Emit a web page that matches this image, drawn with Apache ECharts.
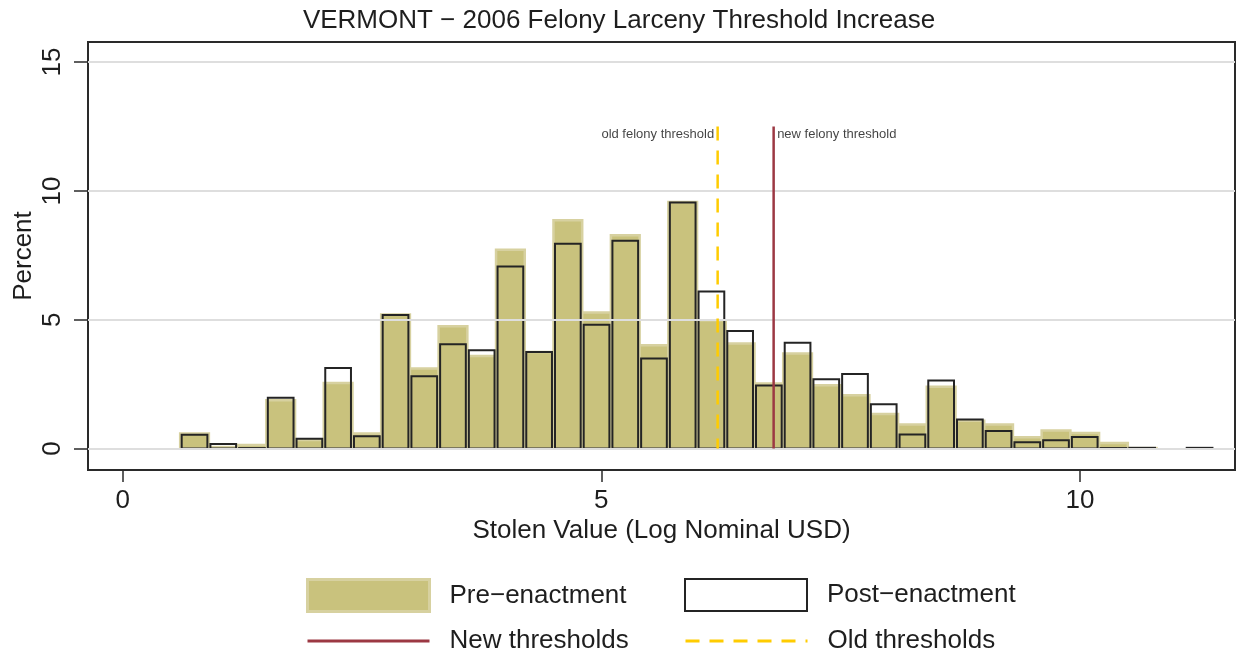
<!DOCTYPE html>
<html><head><meta charset="utf-8">
<script src="https://cdn.jsdelivr.net/npm/echarts@6/dist/echarts.min.js"></script>
<style>html,body{margin:0;padding:0;background:#fff}#c{width:1238px;height:655px}</style>
</head><body><div id="c"></div>
<script>
// ---- data ----
const binStarts = [0.6,0.9,1.2,1.5,1.8,2.1,2.4,2.7,3.0,3.3,3.6,3.9,4.2,4.5,4.8,5.1,5.4,5.7,6.0,6.3,6.6,6.9,7.2,7.5,7.8,8.1,8.4,8.7,9.0,9.3,9.6,9.9,10.2,10.5,10.8,11.1];
const binWidth = 0.3;
const preValues  = [0.59,0.06,0.14,1.88,0.33,2.55,0.59,5.20,3.11,4.75,3.59,7.72,3.75,8.86,5.28,8.28,4.01,9.57,4.98,4.08,2.53,3.69,2.46,2.07,1.34,0.94,2.40,1.08,0.94,0.44,0.70,0.61,0.22,0.02,0,0];
const postValues = [0.54,0.18,0.02,1.97,0.38,3.13,0.48,5.19,2.81,4.05,3.82,7.07,3.75,7.95,4.81,8.07,3.50,9.55,6.10,4.56,2.45,4.11,2.69,2.90,1.72,0.55,2.64,1.13,0.68,0.25,0.32,0.45,0.02,0.03,0,0.03];
const xTicks = [0,5,10];
const yTicks = [0,5,10,15];
const oldThreshold = 6.215;
const newThreshold = 6.80;
const thresholdTop = 12.5;
const labelLevel = 12.2;
const thresholdLabels = ['old felony threshold','new felony threshold'];
const seriesNames = ['Pre−enactment','Post−enactment','New thresholds','Old thresholds'];
const titleText = 'VERMONT − 2006 Felony Larceny Threshold Increase';
const xName = 'Stolen Value (Log Nominal USD)';
const yName = 'Percent';

// ---- styles ----
const FONT = '"Liberation Sans", Arial, Helvetica, sans-serif';
const TXT = '#1e1e1e';
const PRE_FILL = '#C9C27D', PRE_EDGE = '#D7D1A0';
const POST_EDGE = '#242424';
const RED = '#9C3843', YELLOW = '#FFCC00';

const preData = binStarts.map((s,i)=>[s, s+binWidth, preValues[i]]);
const postData = binStarts.map((s,i)=>[s, s+binWidth, postValues[i]]);

function makeRender(kind){
  return function(params, api){
    const x0 = api.value(0), x1 = api.value(1), v = api.value(2);
    if (!(v > 0)) return null;
    const p0 = api.coord([x0, v]), p1 = api.coord([x1, 0]);
    if (kind === 'pre') {
      return {type:'rect', shape:{x:p0[0], y:p0[1], width:p1[0]-p0[0], height:p1[1]-p0[1]},
        style:{fill:PRE_FILL, stroke:PRE_EDGE, lineWidth:2.5}};
    }
    return {type:'rect', shape:{x:p0[0]+1.5, y:p0[1], width:p1[0]-p0[0]-3, height:p1[1]-p0[1]},
      style:{fill:'none', stroke:POST_EDGE, lineWidth:2}};
  };
}

const chart = echarts.init(document.getElementById('c'), null, {renderer:'canvas'});
const legendBase = {
  orient:'horizontal', padding:0, itemWidth:122, itemHeight:32, selectedMode:false,
  textStyle:{fontFamily:FONT, fontSize:26, color:TXT, padding:[0,0,0,15]}
};
chart.setOption({
  animation:false,
  backgroundColor:'#fff',
  textStyle:{fontFamily:FONT},
  title:{text:titleText, left:'center', top:8, padding:0,
    textStyle:{fontFamily:FONT, fontSize:26, fontWeight:'normal', color:TXT}},
  legend:[
    Object.assign({}, legendBase, {left:306, top:578, data:[{name:seriesNames[0], icon:'rect',
      itemStyle:{color:PRE_FILL, borderColor:PRE_EDGE, borderWidth:3}}]}),
    Object.assign({}, legendBase, {left:684, top:578, data:[{name:seriesNames[1], icon:'rect',
      itemStyle:{color:'#fff', borderColor:POST_EDGE, borderWidth:2}}]}),
    Object.assign({}, legendBase, {left:306, top:628, data:[{name:seriesNames[2],
      itemStyle:{opacity:0}, lineStyle:{width:3}}]}),
    Object.assign({}, legendBase, {left:684, top:628, data:[{name:seriesNames[3],
      itemStyle:{opacity:0}, lineStyle:{width:3}}]})
  ],
  grid:{left:88, right:3, top:42, bottom:185, show:true, borderColor:'#2a2a2a', borderWidth:2,
    backgroundColor:'#fff', containLabel:false, outerBoundsMode:'none'},
  xAxis:{type:'value', min:-0.363, max:11.62,
    name:xName, nameLocation:'middle', nameGap:48, nameMoveOverlap:false,
    nameTextStyle:{fontFamily:FONT, fontSize:26, color:TXT},
    axisLine:{show:false, onZero:false},
    axisTick:{show:true, length:12, customValues:xTicks, lineStyle:{color:'#2a2a2a', width:1.5}},
    axisLabel:{customValues:xTicks, fontSize:26, color:TXT, margin:18, fontFamily:FONT},
    splitLine:{show:false}},
  yAxis:{type:'value', min:-0.83, max:15.78,
    name:yName, nameLocation:'middle', nameGap:51, nameRotate:90, nameMoveOverlap:false,
    nameTextStyle:{fontFamily:FONT, fontSize:26, color:TXT},
    axisLine:{show:false, onZero:false},
    axisTick:{show:true, length:14, customValues:yTicks, lineStyle:{color:'#2a2a2a', width:1.5}},
    axisLabel:{customValues:yTicks, rotate:90, fontSize:26, color:TXT, margin:22, fontFamily:FONT},
    splitLine:{show:false}},
  series:[
    {type:'line', name:'grid', data:[], z:1, silent:true,
      markLine:{silent:true, symbol:['none','none'], label:{show:false}, animation:false,
        lineStyle:{color:'#DEDEDE', width:2, type:'solid'},
        data:yTicks.map(v=>({yAxis:v}))}},
    {type:'custom', name:seriesNames[0], data:preData, renderItem:makeRender('pre'), z:2, silent:true,
      encode:{x:[0,1], y:2},
      itemStyle:{color:PRE_FILL, borderColor:PRE_EDGE, borderWidth:3}},
    {type:'custom', name:seriesNames[1], data:postData, renderItem:makeRender('post'), z:3, silent:true,
      encode:{x:[0,1], y:2},
      itemStyle:{color:'#fff', borderColor:POST_EDGE, borderWidth:2}},
    {type:'line', name:seriesNames[2], data:[[newThreshold,thresholdTop],[newThreshold,0]], symbol:'none',
      z:5, silent:true, lineStyle:{color:RED, width:2.5}, itemStyle:{color:RED}},
    {type:'line', name:seriesNames[3], data:[[oldThreshold,thresholdTop],[oldThreshold,0]], symbol:'none',
      z:5, silent:true, lineStyle:{color:YELLOW, width:2.5, type:[14,10]}, itemStyle:{color:YELLOW}},
    {type:'scatter', name:'labels', symbol:'rect', symbolSize:1, z:6, silent:true,
      itemStyle:{color:'rgba(0,0,0,0)'},
      label:{show:true, fontFamily:FONT, fontSize:13, color:'#111', distance:3,
        formatter:p=>thresholdLabels[p.dataIndex]},
      data:[{value:[oldThreshold,labelLevel], label:{position:'left'}},
            {value:[newThreshold,labelLevel], label:{position:'right'}}]}
  ]
});
</script></body></html>
